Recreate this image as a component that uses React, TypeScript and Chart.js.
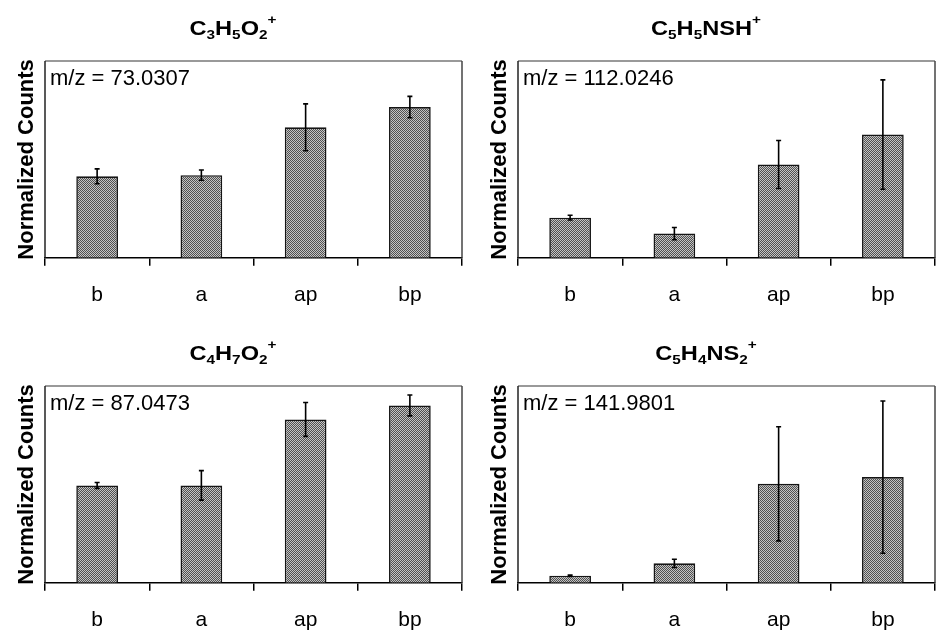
import React, { useEffect, useRef } from "react";
import { Chart, registerables } from "chart.js";

Chart.register(...registerables);

const FONT = "'Liberation Sans', Arial, Helvetica, sans-serif";

const categories = ["b", "a", "ap", "bp"];
const yAxisLabel = "Normalized Counts";

// formula segments: [text, kind] kind = "n" normal, "sub", "sup"
const title1 = [["C", "n"], ["3", "sub"], ["H", "n"], ["5", "sub"], ["O", "n"], ["2", "sub"], ["+", "sup"]];
const title2 = [["C", "n"], ["5", "sub"], ["H", "n"], ["5", "sub"], ["NSH", "n"], ["+", "sup"]];
const title3 = [["C", "n"], ["4", "sub"], ["H", "n"], ["7", "sub"], ["O", "n"], ["2", "sub"], ["+", "sup"]];
const title4 = [["C", "n"], ["5", "sub"], ["H", "n"], ["4", "sub"], ["NS", "n"], ["2", "sub"], ["+", "sup"]];

const mz1 = "m/z = 73.0307";
const mz2 = "m/z = 112.0246";
const mz3 = "m/z = 87.0473";
const mz4 = "m/z = 141.9801";

const values1 = [41.4, 42.0, 66.3, 76.6];
const errors1 = [3.8, 2.6, 11.9, 5.4];
const values2 = [20.4, 12.3, 47.4, 62.6];
const errors2 = [1.2, 3.1, 12.2, 27.8];
const values3 = [49.5, 49.5, 83.0, 90.1];
const errors3 = [1.5, 7.5, 8.6, 5.3];
const values4 = [3.6, 9.9, 50.3, 53.7];
const errors4 = [0.4, 2.1, 29.0, 38.7];

const yMin = 0;
const yMax = 100;

const CANVAS_W = 472;
const CANVAS_H = 325;

function makePattern(): CanvasPattern | string {
  const c = document.createElement("canvas");
  c.width = 2;
  c.height = 2;
  const g = c.getContext("2d");
  if (!g) return "#8a8a8a";
  g.fillStyle = "#c4c4c4";
  g.fillRect(0, 0, 2, 2);
  g.fillStyle = "#505050";
  g.fillRect(0, 0, 1, 1);
  g.fillRect(1, 1, 1, 1);
  const p = g.createPattern(c, "repeat");
  return p || "#8a8a8a";
}

function drawFormula(ctx: CanvasRenderingContext2D, segs: string[][], cx: number, baseline: number) {
  const bigFont = `bold 20px ${FONT}`;
  const smallFont = `bold 13px ${FONT}`;
  const sx = 1.18;
  let total = 0;
  const widths: number[] = [];
  segs.forEach(([t, k]) => {
    ctx.font = k === "n" ? bigFont : smallFont;
    const w = ctx.measureText(t).width;
    widths.push(w);
    total += w;
  });
  ctx.save();
  ctx.translate(cx, 0);
  ctx.scale(sx, 1);
  let x = -total / 2;
  ctx.fillStyle = "#000";
  ctx.textAlign = "left";
  ctx.textBaseline = "alphabetic";
  segs.forEach(([t, k], i) => {
    ctx.font = k === "n" ? bigFont : smallFont;
    let y = baseline;
    if (k === "sub") y = baseline + 4;
    if (k === "sup") y = baseline - 11;
    ctx.fillText(t, x, y);
    x += widths[i];
  });
  ctx.restore();
}

type PanelProps = {
  left: number;
  top: number;
  title: string[][];
  mz: string;
  values: number[];
  errors: number[];
};

function Panel({ left, top, title, mz, values, errors }: PanelProps) {
  const ref = useRef<HTMLCanvasElement | null>(null);

  useEffect(() => {
    const canvas = ref.current;
    if (!canvas) return;

    const decor = {
      id: "decor",
      beforeDatasetsDraw(chart: any) {
        const { ctx, chartArea } = chart;
        const { left: l, right: r, top: t, bottom: b } = chartArea;
        ctx.save();
        ctx.lineWidth = 1.5;
        ctx.strokeStyle = "#777";
        ctx.beginPath();
        ctx.moveTo(l, t);
        ctx.lineTo(r, t);
        ctx.stroke();
        ctx.strokeStyle = "#444";
        ctx.beginPath();
        ctx.moveTo(r, t);
        ctx.lineTo(r, b);
        ctx.stroke();
        ctx.strokeStyle = "#222";
        ctx.beginPath();
        ctx.moveTo(l, t);
        ctx.lineTo(l, b);
        ctx.stroke();
        ctx.restore();
      },
      afterDatasetsDraw(chart: any) {
        const { ctx, chartArea } = chart;
        const yScale = chart.scales.y;
        const meta = chart.getDatasetMeta(0);
        ctx.save();
        ctx.strokeStyle = "#000";
        ctx.lineWidth = 1.6;
        meta.data.forEach((el: any, i: number) => {
          const v = values[i];
          const e = errors[i];
          const yT = yScale.getPixelForValue(v + e);
          const yB = yScale.getPixelForValue(v - e);
          const x = el.x;
          ctx.beginPath();
          ctx.moveTo(x, yT);
          ctx.lineTo(x, yB);
          ctx.moveTo(x - 2.5, yT);
          ctx.lineTo(x + 2.5, yT);
          ctx.moveTo(x - 2.5, yB);
          ctx.lineTo(x + 2.5, yB);
          ctx.stroke();
        });
        ctx.fillStyle = "#000";
        ctx.font = `22px ${FONT}`;
        ctx.textAlign = "left";
        ctx.textBaseline = "alphabetic";
        ctx.fillText(mz, chartArea.left + 5, chartArea.top + 24);
        ctx.restore();
      },
      afterDraw(chart: any) {
        const { ctx, chartArea } = chart;
        ctx.save();
        ctx.translate(32.5, (chartArea.top + chartArea.bottom) / 2);
        ctx.rotate(-Math.PI / 2);
        ctx.font = `bold 22px ${FONT}`;
        ctx.fillStyle = "#000";
        ctx.textAlign = "center";
        ctx.textBaseline = "alphabetic";
        ctx.fillText(yAxisLabel, 0, 0);
        ctx.restore();
        drawFormula(ctx, title, 233, 34.5);
      },
    };

    const chart = new Chart(canvas, {
      type: "bar",
      data: {
        labels: categories,
        datasets: [
          {
            data: values,
            backgroundColor: makePattern() as any,
            borderColor: "#151515",
            borderWidth: 1.6,
            barPercentage: 0.4,
            categoryPercentage: 1,
          },
        ],
      },
      options: {
        responsive: false,
        animation: false,
        devicePixelRatio: 1,
        layout: { padding: { left: 45, right: 10, top: 61, bottom: 0 } },
        plugins: {
          legend: { display: false },
          tooltip: { enabled: false },
          title: { display: false },
        },
        scales: {
          x: {
            grid: {
              display: true,
              drawOnChartArea: false,
              drawTicks: true,
              tickLength: 8,
              color: "#000",
              lineWidth: 1.5,
              offset: true,
            },
            border: { display: true, color: "#000", width: 1.5 },
            ticks: {
              color: "#000",
              font: { family: FONT, size: 21 },
              padding: 17,
              maxRotation: 0,
              autoSkip: false,
            },
          },
          y: {
            display: false,
            min: yMin,
            max: yMax,
          },
        },
      },
      plugins: [decor],
    });

    return () => chart.destroy();
  }, [title, mz, values, errors]);

  return (
    <canvas
      ref={ref}
      width={CANVAS_W}
      height={CANVAS_H}
      style={{ position: "absolute", left, top, width: CANVAS_W, height: CANVAS_H }}
    />
  );
}

export default function App() {
  return (
    <div
      style={{
        position: "absolute",
        left: 0,
        top: 0,
        width: 945,
        height: 639,
        background: "#fff",
        overflow: "hidden",
      }}
    >
      <Panel left={0} top={0} title={title1} mz={mz1} values={values1} errors={errors1} />
      <Panel left={473} top={0} title={title2} mz={mz2} values={values2} errors={errors2} />
      <Panel left={0} top={325} title={title3} mz={mz3} values={values3} errors={errors3} />
      <Panel left={473} top={325} title={title4} mz={mz4} values={values4} errors={errors4} />
    </div>
  );
}
